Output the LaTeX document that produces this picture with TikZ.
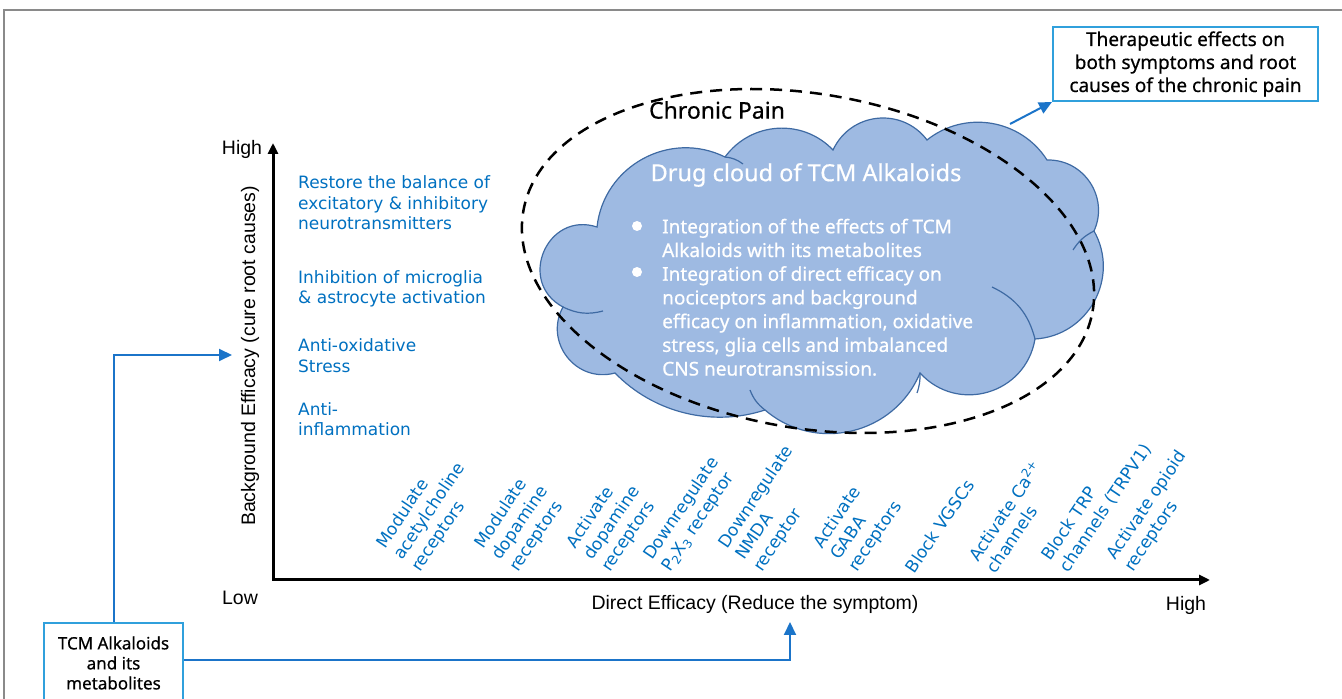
\documentclass[tikz,border=0pt]{standalone}
\usepackage{fontspec}
\setmainfont{Liberation Sans}
\newfontfamily\notosans[FakeBold=0.6]{Noto Sans}
\newfontfamily\dejavu{DejaVu Sans}
\usetikzlibrary{arrows.meta,positioning,calc}
\definecolor{txtblue}{HTML}{0070C0}
\definecolor{linkblue}{HTML}{1B74C9}
\definecolor{boxblue}{HTML}{30A0DC}
\definecolor{cloudfill}{HTML}{9EBAE2}
\definecolor{cloudedge}{HTML}{3E6AA3}
\definecolor{framegray}{HTML}{8A8A8A}

\begin{document}
\begin{tikzpicture}[
  x=1pt, y=1pt,
  axis/.style={line width=3pt, {Triangle[length=11pt,width=10pt]}-{Triangle[length=11pt,width=10pt]}},
  link/.style={draw=linkblue, line width=2pt, -{Triangle[length=13pt,width=12pt]}},
  boxed/.style={draw=boxblue, line width=2pt, fill=white, align=center, inner sep=3pt, font=\notosans\fontsize{19}{23}\selectfont},
  effect/.style={text=txtblue, align=left, anchor=west, inner sep=0pt, font=\dejavu\fontsize{17}{20.5}\selectfont},
  target/.style={text=txtblue, align=left, anchor=south west, rotate=56, inner sep=0pt, font=\dejavu\fontsize{17}{21}\selectfont},
  axlabel/.style={font=\fontsize{19.5}{23}\selectfont},
  item/.style={text=white, align=left, anchor=west, inner sep=0pt, font=\notosans\fontsize{19}{23.7}\selectfont},
  dot/.style={circle, fill=white, inner sep=0pt, minimum size=10pt},
  cloudline/.style={draw=cloudedge, line width=1.2pt},
]
\useasboundingbox (0,0) rectangle (1342,699);

% page frame
\draw[framegray, line width=1.5pt] (4,-5) -- (4,689) -- (1347,689);

% axes
\coordinate (origin) at (273,119);
\coordinate (ytip) at (273,556);
\coordinate (xtip) at (1210,119);
\draw[axis] (ytip) |- (xtip);

\node[axlabel] (yhigh) at (242,550) {High};
\node[axlabel] (xlow) at (240,101) {Low};
\node[axlabel] (xhigh) at (1186,94) {High};
\node[axlabel] (xname) at (755,95) {Direct Efficacy (Reduce the symptom)};
\node[axlabel, rotate=90] (yname) at (250,343) {Background Efficacy (cure root causes)};

% background efficacy
\node[effect] (balance) at (298,496) {Restore the balance of\\excitatory \& inhibitory\\neurotransmitters};
\node[effect] (glia) at (298,410) {Inhibition of microglia\\\& astrocyte activation};
\node[effect] (oxid) at (298,343.5) {Anti-oxidative\\Stress};
\node[effect] (inflam) at (298,280) {Anti-\\inflammation};

% direct efficacy
\node[target] (ach) at (423,124) {Modulate\\acetylcholine\\receptors};
\node[target] (dopmod) at (521,124) {Modulate\\dopamine\\receptors};
\node[target] (dopact) at (613,124) {Activate\\dopamine\\receptors};
\node[target] (ptx) at (673,124) {Downregulate\\P\textsubscript{2}X\textsubscript{3} receptor};
\node[target] (nmda) at (765,124) {Downregulate\\NMDA\\receptor};
\node[target] (gaba) at (860,124) {Activate\\GABA\\receptors};
\node[target] (vgsc) at (915,124) {Block VGSCs};
\node[target] (cach) at (996,124) {Activate Ca\textsuperscript{2+}\\channels};
\node[target] (trp) at (1070,124) {Block TRP\\channels (TRPV1)};
\node[target] (opioid) at (1136,124) {Activate opioid\\receptors};

% drug cloud
\coordinate (A) at (597,472);
\coordinate (K) at (725,542);
\coordinate (J) at (833,549);
\coordinate (I) at (927,559);
\coordinate (H) at (1047,539);
\coordinate (G) at (1094,468);
\coordinate (F) at (1035,360);
\coordinate (E) at (920,326);
\coordinate (D) at (765,289);
\coordinate (C) at (615,326);
\coordinate (B) at (563,392);
\filldraw[cloudline, fill=cloudfill]
  (A) to[bend left=55, looseness=1.08] (K)
      to[bend left=50, looseness=1.04] (J)
      to[bend left=59, looseness=1.13] (I)
      to[bend left=48, looseness=1.02] (H)
      to[bend left=58, looseness=1.11] (G)
      to[bend left=58, looseness=1.11] (F)
      to[bend left=64, looseness=1.19] (E)
      to[bend left=54, looseness=1.07] (D)
      to[bend left=32, looseness=0.92] (C)
      to[bend left=67, looseness=1.22] (B)
      to[bend left=85, looseness=1.55] (A) -- cycle;
\draw[cloudline] (B) to[bend right=20] (603,388);
\draw[cloudline] (K) to[bend left=15] (743,535);
\draw[cloudline] (G) to[bend right=15] (1073,449);
\draw[cloudline] (F) to[bend right=25] (992,412);
\draw[cloudline] (D) to[bend left=15] (750,309);
\draw[cloudline] (E) to[bend left=10] (917,306);

% chronic pain boundary
\draw[line width=2.5pt, dash pattern=on 12pt off 8pt] (808,438) ellipse[x radius=289, y radius=167, rotate=-10];
\node[font=\notosans\fontsize{23}{28}\selectfont] (pain) at (717,589) {Chronic Pain};

\node[text=white, font=\notosans\fontsize{23.5}{28}\selectfont] (cloudtitle) at (806,524) {Drug cloud of TCM Alkaloids};
\node[dot] (dot1) at (637,473) {};
\node[dot] (dot2) at (637,427) {};
\node[item] (item1) at (662,461) {Integration of the effects of TCM\\Alkaloids with its metabolites};
\node[item] (item2) at (662,378) {Integration of direct efficacy on\\nociceptors and background\\efficacy on inflammation, oxidative\\stress, glia cells and imbalanced\\CNS neurotransmission.};

% boxes and links
\node[boxed, minimum width=265, minimum height=74] (outcome) at (1185.5,635) {Therapeutic effects on\\both symptoms and root\\causes of the chronic pain};
\node[boxed, minimum width=139, minimum height=80, anchor=north, font=\notosans\fontsize{17}{20}\selectfont] (alk) at (113.5,77) {TCM Alkaloids\\and its\\metabolites};

\coordinate (cloudtop) at (1010,575);
\coordinate (bgtip) at (232,344);
\coordinate (dirtip) at (790,77);
\draw[link] (cloudtop) -- (outcome.south west);
\draw[link] (alk.north) |- (bgtip);
\draw[link] ([yshift=3pt]alk.east) -| (dirtip);
\end{tikzpicture}
\end{document}
